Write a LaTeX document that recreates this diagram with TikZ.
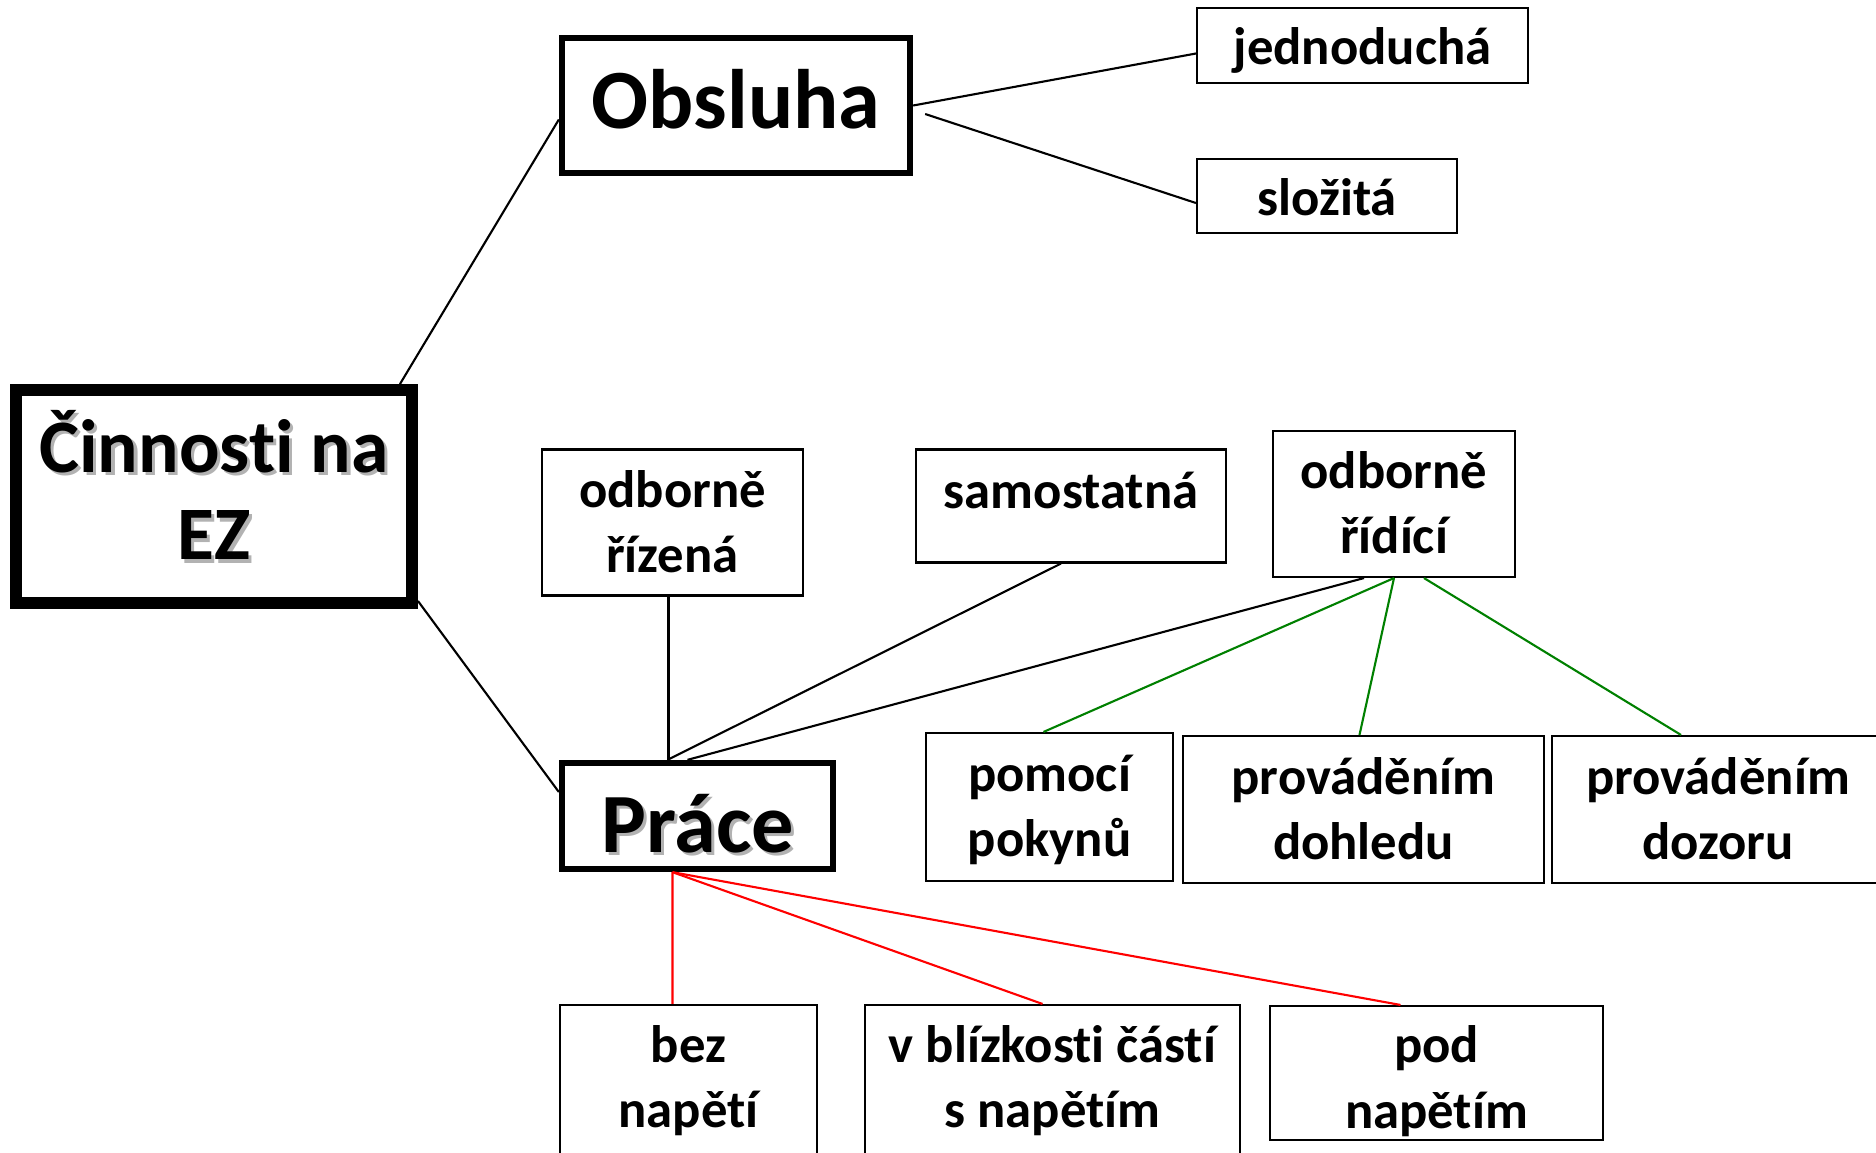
\documentclass[tikz,border=0pt]{standalone}
\usepackage{fontspec}
\setmainfont{Carlito}[Ligatures=NoCommon]
\usepackage{tikz}

% gray text shadow under the big labels
\newcommand{\shadowtxt}[1]{\makebox[0pt][l]{\raisebox{-0.9pt}{\hspace{0.9pt}\textcolor{black!30}{#1}}}#1}

\tikzset{
  box/.style={draw, line width=0.6pt, align=center, inner sep=0pt,
    font=\bfseries\fontsize{15}{18.5}\selectfont, text height=28.4pt, text depth=0pt},
  oneline/.style={text height=11pt},
  bigbox/.style={draw, line width=1.8pt, align=center, inner sep=0pt,
    font=\bfseries\fontsize{24}{28}\selectfont, text depth=0pt},
  rootbox/.style={draw, line width=3.4pt, align=center, inner sep=0pt,
    font=\bfseries\fontsize{21.5}{25}\selectfont, text height=36.1pt, text depth=0pt},
  link/.style={line width=0.6pt},
  glink/.style={link, draw=green!50!black},
  rlink/.style={link, draw=red}
}

\begin{document}
\begin{tikzpicture}[x=0.1mm, y=-0.1mm]
\useasboundingbox (0,0) rectangle (1876,1153);
% main boxes
\node[rootbox, minimum width=39.6mm, minimum height=21.3mm] (cin) at (214,496.5) {\shadowtxt{Činnosti na}\\ \shadowtxt{EZ}};
\node[bigbox, minimum width=34.8mm, minimum height=13.5mm, text height=13pt] (obs) at (736,105.5) {Obsluha};
\node[bigbox, minimum width=27.1mm, minimum height=10.6mm, text height=20.5pt] (pra) at (697.5,816) {\shadowtxt{Práce}};
% Obsluha
\node[box, oneline, minimum width=33.1mm, minimum height=7.5mm] (jed) at (1362.5,45.5) {jednoduchá};
\node[box, oneline, minimum width=26mm, minimum height=7.4mm] (slo) at (1327,196) {složitá};
% Prace - upper row
\node[box, minimum width=26.1mm, minimum height=14.6mm] (ori) at (672.5,522.5) {odborně\\ řízená};
\node[box, minimum width=31mm, minimum height=11.3mm, text height=1.2pt] (sam) at (1071,506) {samostatná};
\node[box, minimum width=24.2mm, minimum height=14.6mm, text height=28pt] (ord) at (1394,504) {odborně\\ řídící};
% odborne ridici
\node[box, minimum width=24.7mm, minimum height=14.8mm] (pom) at (1049.5,807) {pomocí\\ pokynů};
\node[box, minimum width=36.1mm, minimum height=14.7mm, text height=28.7pt] (doh) at (1363.5,809.5) {prováděním\\ dohledu};
\node[box, minimum width=33.2mm, minimum height=14.7mm, text height=28.7pt] (doz) at (1718,809.5) {prováděním\\ dozoru};
% Prace - lower row
\node[box, minimum width=25.7mm, minimum height=15mm, text height=27.3pt] (bez) at (688.5,1080) {bez\\ napětí};
\node[box, minimum width=37.5mm, minimum height=15mm, text height=27.3pt] (vbl) at (1052.5,1080) {v blízkosti částí\\ s napětím};
\node[box, minimum width=33.3mm, minimum height=13.4mm, text height=31.3pt] (pod) at (1436.5,1073) {pod\\ napětím};

% connectors
\draw[link] ([xshift=-1.8mm]cin.north east) -- ([yshift=-1.4mm]obs.west);
\draw[link] ([yshift=0.8mm]cin.south east) -- ([yshift=2.4mm]pra.west);
\draw[link] (obs.east) -- ([yshift=-0.8mm]jed.west);
\draw[link] ([xshift=1.2mm,yshift=-0.85mm]obs.east) -- ([yshift=-0.7mm]slo.west);
\draw[link] ([xshift=-0.4mm]ori.south) -- ([xshift=-0.4mm]ori.south |- pra.north);
\draw[link] ([xshift=-1mm]sam.south) -- ([xshift=-3mm]pra.north);
\draw[link] ([xshift=-3mm]ord.south) -- ([xshift=-1mm]pra.north);
\draw[glink] (ord.south) -- ([xshift=-0.6mm]pom.north);
\draw[glink] (ord.south) -- ([xshift=-0.4mm]doh.north);
\draw[glink] ([xshift=3mm]ord.south) -- ([xshift=-3.7mm]doz.north);
\draw[rlink] ([xshift=-2.5mm]pra.south) -- ([xshift=-1.6mm]bez.north);
\draw[rlink] ([xshift=-2.5mm]pra.south) -- ([xshift=-1mm]vbl.north);
\draw[rlink] ([xshift=-2.5mm]pra.south) -- ([xshift=-3.6mm]pod.north);
\end{tikzpicture}
\end{document}
